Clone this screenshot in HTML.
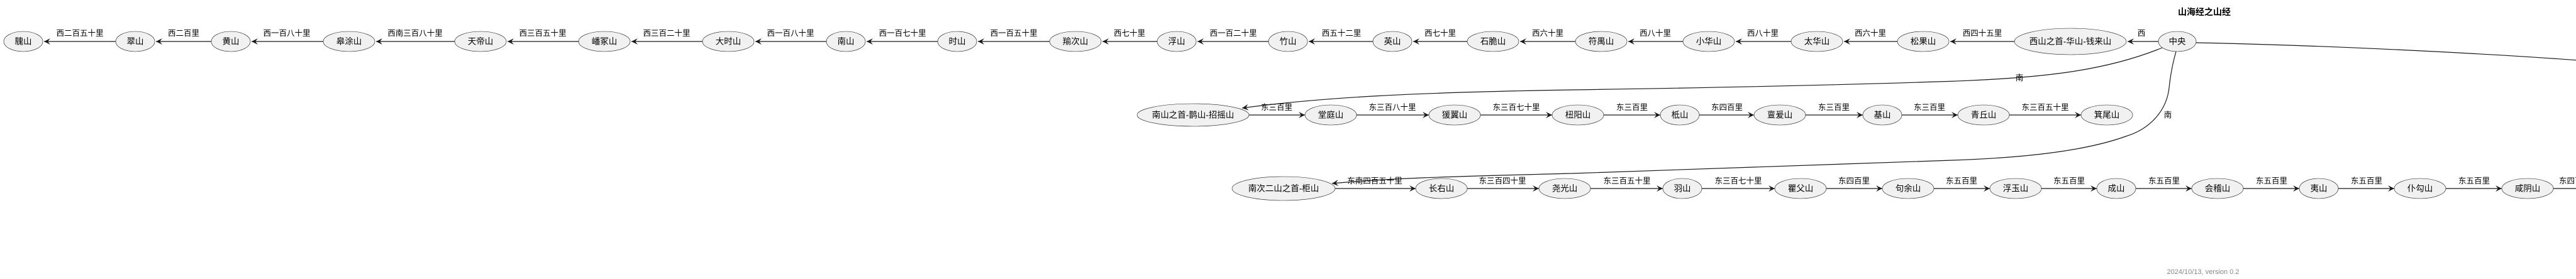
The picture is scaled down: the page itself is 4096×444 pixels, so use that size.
<!DOCTYPE html>
<html><head><meta charset="utf-8">
<style>
html,body{margin:0;padding:0;background:#fff;}
svg{display:block;}
text{font-family:"Liberation Sans","Noto Sans CJK SC","WenQuanYi Zen Hei",sans-serif;fill:#000;}
.n{font-size:13.5px;text-anchor:middle;dominant-baseline:central;}
.l{font-size:12.5px;text-anchor:middle;}
ellipse{fill:#F1F1F1;stroke:#181818;stroke-width:0.6;}
.e{stroke:#181818;stroke-width:1.2;fill:none;}
</style></head>
<body>
<svg width="4096" height="444" viewBox="0 0 4096 444" xmlns="http://www.w3.org/2000/svg">
<defs>
<marker id="a" markerWidth="12" markerHeight="10" refX="10" refY="5" orient="auto" markerUnits="userSpaceOnUse">
<path d="M0,0 L10,5 L0,10 L4,5 Z" fill="#181818"/>
</marker>
</defs>
<text x="3505" y="24" class="l" style="font-size:14px;font-weight:bold">山海经之山经</text>

<g id="row1">
<!-- edges row1 (pointing left) -->
<line class="e" x1="184" y1="66" x2="70" y2="66" marker-end="url(#a)"/>
<line class="e" x1="336" y1="66" x2="248" y2="66" marker-end="url(#a)"/>
<line class="e" x1="514" y1="66" x2="400" y2="66" marker-end="url(#a)"/>
<line class="e" x1="723" y1="66" x2="598" y2="66" marker-end="url(#a)"/>
<line class="e" x1="920" y1="66" x2="807" y2="66" marker-end="url(#a)"/>
<line class="e" x1="1117" y1="66" x2="1004" y2="66" marker-end="url(#a)"/>
<line class="e" x1="1314" y1="66" x2="1201" y2="66" marker-end="url(#a)"/>
<line class="e" x1="1491" y1="66" x2="1378" y2="66" marker-end="url(#a)"/>
<line class="e" x1="1669" y1="66" x2="1555" y2="66" marker-end="url(#a)"/>
<line class="e" x1="1840" y1="66" x2="1753" y2="66" marker-end="url(#a)"/>
<line class="e" x1="2017" y1="66" x2="1904" y2="66" marker-end="url(#a)"/>
<line class="e" x1="2183" y1="66" x2="2081" y2="66" marker-end="url(#a)"/>
<line class="e" x1="2333" y1="66" x2="2247" y2="66" marker-end="url(#a)"/>
<line class="e" x1="2505" y1="66" x2="2417" y2="66" marker-end="url(#a)"/>
<line class="e" x1="2676" y1="66" x2="2589" y2="66" marker-end="url(#a)"/>
<line class="e" x1="2848" y1="66" x2="2760" y2="66" marker-end="url(#a)"/>
<line class="e" x1="3017" y1="66" x2="2932" y2="66" marker-end="url(#a)"/>
<line class="e" x1="3203" y1="66" x2="3101" y2="66" marker-end="url(#a)"/>
<line class="e" x1="3432" y1="66" x2="3383" y2="66" marker-end="url(#a)"/>
<!-- labels -->
<text class="l" x="127" y="57">西二百五十里</text>
<text class="l" x="292" y="57">西二百里</text>
<text class="l" x="456" y="57">西一百八十里</text>
<text class="l" x="660" y="57">西南三百八十里</text>
<text class="l" x="863" y="57">西三百五十里</text>
<text class="l" x="1060" y="57">西三百二十里</text>
<text class="l" x="1257" y="57">西一百八十里</text>
<text class="l" x="1435" y="57">西一百七十里</text>
<text class="l" x="1612" y="57">西一百五十里</text>
<text class="l" x="1796" y="57">西七十里</text>
<text class="l" x="1961" y="57">西一百二十里</text>
<text class="l" x="2133" y="57">西五十二里</text>
<text class="l" x="2290" y="57">西七十里</text>
<text class="l" x="2461" y="57">西六十里</text>
<text class="l" x="2632" y="57">西八十里</text>
<text class="l" x="2803" y="57">西八十里</text>
<text class="l" x="2974" y="57">西六十里</text>
<text class="l" x="3152" y="57">西四十五里</text>
<text class="l" x="3405" y="57">西</text>
<!-- nodes -->
<ellipse cx="37" cy="66" rx="31" ry="16"/><text class="n" x="37" y="66">騩山</text>
<ellipse cx="215" cy="66" rx="31" ry="16"/><text class="n" x="215" y="66">翠山</text>
<ellipse cx="367" cy="66" rx="31" ry="16"/><text class="n" x="367" y="66">黄山</text>
<ellipse cx="555" cy="66" rx="41" ry="16"/><text class="n" x="555" y="66">皋涂山</text>
<ellipse cx="764" cy="66" rx="41" ry="16"/><text class="n" x="764" y="66">天帝山</text>
<ellipse cx="961" cy="66" rx="41" ry="16"/><text class="n" x="961" y="66">嶓冢山</text>
<ellipse cx="1158" cy="66" rx="41" ry="16"/><text class="n" x="1158" y="66">大时山</text>
<ellipse cx="1345" cy="66" rx="31" ry="16"/><text class="n" x="1345" y="66">南山</text>
<ellipse cx="1522" cy="66" rx="31" ry="16"/><text class="n" x="1522" y="66">时山</text>
<ellipse cx="1710" cy="66" rx="41" ry="16"/><text class="n" x="1710" y="66">羭次山</text>
<ellipse cx="1871" cy="66" rx="31" ry="16"/><text class="n" x="1871" y="66">浮山</text>
<ellipse cx="2048" cy="66" rx="31" ry="16"/><text class="n" x="2048" y="66">竹山</text>
<ellipse cx="2214" cy="66" rx="31" ry="16"/><text class="n" x="2214" y="66">英山</text>
<ellipse cx="2374" cy="66" rx="41" ry="16"/><text class="n" x="2374" y="66">石脆山</text>
<ellipse cx="2546" cy="66" rx="41" ry="16"/><text class="n" x="2546" y="66">符禺山</text>
<ellipse cx="2717" cy="66" rx="41" ry="16"/><text class="n" x="2717" y="66">小华山</text>
<ellipse cx="2889" cy="66" rx="41" ry="16"/><text class="n" x="2889" y="66">太华山</text>
<ellipse cx="3058" cy="66" rx="41" ry="16"/><text class="n" x="3058" y="66">松果山</text>
<ellipse cx="3292" cy="66" rx="89" ry="21"/><text class="n" x="3292" y="66">西山之首-华山-钱来山</text>
</g>

<!-- curves from 中央 -->
<path class="e" d="M3492,68 C3700,72 3950,85 4100,96"/>
<path class="e" d="M3438,76 C3350,112 3250,125 3082,130 C2900,136 2700,140 2500,143 C2250,147 2100,155 1975,172" marker-end="url(#a)"/>
<text class="l" x="3211" y="128">南</text>
<path class="e" d="M3460,82 C3452,110 3450,130 3449,140 C3445,175 3420,205 3380,217 C3330,235 3250,250 3105,255 C2900,264 2700,270 2500,276 C2300,281 2200,284 2118,292" marker-end="url(#a)"/>
<text class="l" x="3447" y="187">南</text>
<ellipse cx="3462" cy="66" rx="30" ry="16"/><text class="n" x="3462" y="66">中央</text>

<g id="row2">
<line class="e" x1="1986" y1="183" x2="2075" y2="183" marker-end="url(#a)"/>
<line class="e" x1="2157" y1="183" x2="2272" y2="183" marker-end="url(#a)"/>
<line class="e" x1="2354" y1="183" x2="2468" y2="183" marker-end="url(#a)"/>
<line class="e" x1="2550" y1="183" x2="2640" y2="183" marker-end="url(#a)"/>
<line class="e" x1="2702" y1="183" x2="2789" y2="183" marker-end="url(#a)"/>
<line class="e" x1="2871" y1="183" x2="2962" y2="183" marker-end="url(#a)"/>
<line class="e" x1="3024" y1="183" x2="3113" y2="183" marker-end="url(#a)"/>
<line class="e" x1="3195" y1="183" x2="3309" y2="183" marker-end="url(#a)"/>
<text class="l" x="2030" y="175">东三百里</text>
<text class="l" x="2214" y="175">东三百八十里</text>
<text class="l" x="2411" y="175">东三百七十里</text>
<text class="l" x="2595" y="175">东三百里</text>
<text class="l" x="2746" y="175">东四百里</text>
<text class="l" x="2916" y="175">东三百里</text>
<text class="l" x="3068" y="175">东三百里</text>
<text class="l" x="3252" y="175">东三百五十里</text>
<ellipse cx="1897" cy="183" rx="89" ry="18"/><text class="n" x="1897" y="183">南山之首-鹊山-招摇山</text>
<ellipse cx="2116" cy="183" rx="41" ry="16"/><text class="n" x="2116" y="183">堂庭山</text>
<ellipse cx="2313" cy="183" rx="41" ry="16"/><text class="n" x="2313" y="183">猨翼山</text>
<ellipse cx="2509" cy="183" rx="41" ry="16"/><text class="n" x="2509" y="183">杻阳山</text>
<ellipse cx="2671" cy="183" rx="31" ry="16"/><text class="n" x="2671" y="183">柢山</text>
<ellipse cx="2830" cy="183" rx="41" ry="16"/><text class="n" x="2830" y="183">亶爰山</text>
<ellipse cx="2993" cy="183" rx="31" ry="16"/><text class="n" x="2993" y="183">基山</text>
<ellipse cx="3154" cy="183" rx="41" ry="16"/><text class="n" x="3154" y="183">青丘山</text>
<ellipse cx="3350" cy="183" rx="41" ry="16"/><text class="n" x="3350" y="183">箕尾山</text>
</g>

<g id="row3">
<line class="e" x1="2123" y1="300" x2="2251" y2="300" marker-end="url(#a)"/>
<line class="e" x1="2333" y1="300" x2="2447" y2="300" marker-end="url(#a)"/>
<line class="e" x1="2529" y1="300" x2="2644" y2="300" marker-end="url(#a)"/>
<line class="e" x1="2706" y1="300" x2="2822" y2="300" marker-end="url(#a)"/>
<line class="e" x1="2904" y1="300" x2="2993" y2="300" marker-end="url(#a)"/>
<line class="e" x1="3075" y1="300" x2="3164" y2="300" marker-end="url(#a)"/>
<line class="e" x1="3246" y1="300" x2="3334" y2="300" marker-end="url(#a)"/>
<line class="e" x1="3396" y1="300" x2="3485" y2="300" marker-end="url(#a)"/>
<line class="e" x1="3567" y1="300" x2="3656" y2="300" marker-end="url(#a)"/>
<line class="e" x1="3718" y1="300" x2="3807" y2="300" marker-end="url(#a)"/>
<line class="e" x1="3889" y1="300" x2="3978" y2="300" marker-end="url(#a)"/>
<line class="e" x1="4060" y1="300" x2="4100" y2="300"/>
<text class="l" x="2186" y="292">东南四百五十里</text>
<text class="l" x="2389" y="292">东三百四十里</text>
<text class="l" x="2587" y="292">东三百五十里</text>
<text class="l" x="2764" y="292">东三百七十里</text>
<text class="l" x="2948" y="292">东四百里</text>
<text class="l" x="3119" y="292">东五百里</text>
<text class="l" x="3290" y="292">东五百里</text>
<text class="l" x="3441" y="292">东五百里</text>
<text class="l" x="3612" y="292">东五百里</text>
<text class="l" x="3763" y="292">东五百里</text>
<text class="l" x="3934" y="292">东五百里</text>
<text class="l" x="4094" y="292">东四百里</text>
<ellipse cx="2041" cy="300" rx="82" ry="19"/><text class="n" x="2041" y="300">南次二山之首-柜山</text>
<ellipse cx="2292" cy="300" rx="41" ry="16"/><text class="n" x="2292" y="300">长右山</text>
<ellipse cx="2488" cy="300" rx="41" ry="16"/><text class="n" x="2488" y="300">尧光山</text>
<ellipse cx="2675" cy="300" rx="31" ry="16"/><text class="n" x="2675" y="300">羽山</text>
<ellipse cx="2863" cy="300" rx="41" ry="16"/><text class="n" x="2863" y="300">瞿父山</text>
<ellipse cx="3034" cy="300" rx="41" ry="16"/><text class="n" x="3034" y="300">句余山</text>
<ellipse cx="3205" cy="300" rx="41" ry="16"/><text class="n" x="3205" y="300">浮玉山</text>
<ellipse cx="3365" cy="300" rx="31" ry="16"/><text class="n" x="3365" y="300">成山</text>
<ellipse cx="3526" cy="300" rx="41" ry="16"/><text class="n" x="3526" y="300">会稽山</text>
<ellipse cx="3687" cy="300" rx="31" ry="16"/><text class="n" x="3687" y="300">夷山</text>
<ellipse cx="3848" cy="300" rx="41" ry="16"/><text class="n" x="3848" y="300">仆勾山</text>
<ellipse cx="4019" cy="300" rx="41" ry="16"/><text class="n" x="4019" y="300">咸阴山</text>
</g>

<text class="l" x="3503" y="436" style="font-size:11px;fill:#888">2024/10/13, version 0.2</text>
</svg>
</body></html>
